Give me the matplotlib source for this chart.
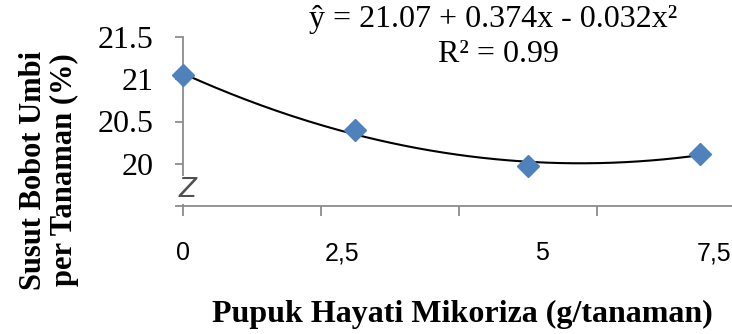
import numpy as np
import matplotlib.pyplot as plt

# data: pupuk hayati mikoriza (g/tanaman) vs susut bobot umbi (%)
dosis = [0, 2.5, 5, 7.5]
susut = [21.05, 20.40, 19.97, 20.12]
tick_labels = ['0', '2,5', '5', '7,5']
label_pos = [0, 2.3, 5.2, 7.7]
y_ticks = [20, 20.5, 21, 21.5]

fig = plt.figure(figsize=(7.32, 3.34), dpi=100)
ax = fig.add_axes([183 / 732, 128 / 334, 549 / 732, 169 / 334])

# trend line (quadratic)
coef = np.polyfit(dosis, susut, 2)
xs = np.linspace(0, 7.5, 200)
ax.plot(xs, np.polyval(coef, xs), color='black', lw=1.5, zorder=2)
ax.plot(dosis, susut, 'D', color='#4F81BD', ms=11, mec='#4F81BD', zorder=3,
        clip_on=False)

ax.set_xlim(0, 7.96)
ax.set_ylim(19.5, 21.5)
for s in ['top', 'right']:
    ax.spines[s].set_visible(False)
for s in ['left', 'bottom']:
    ax.spines[s].set_color('#8c8c8c')
    ax.spines[s].set_linewidth(1.3)

ax.set_yticks(y_ticks)
ax.set_yticks([19.5], minor=True)
ax.set_yticklabels(['20', '20.5', '21', '21.5'], family='Liberation Serif', fontsize=23)
ax.tick_params(axis='y', which='both', direction='out', length=6, width=1.3,
               color='#8c8c8c', pad=15)
ax.set_xticks([0, 2, 4, 6])
ax.set_xticklabels([])
ax.tick_params(axis='x', direction='out', length=7, width=1.3, color='#8c8c8c')

for p, t in zip(label_pos, tick_labels):
    ax.text(p, 18.94, t, ha='center', va='center', fontsize=18,
            family='Liberation Sans', color='black')

# axis break mark
ax.text(0.07, 19.69, 'Z', ha='center', va='center', fontsize=19, style='italic',
        family='DejaVu Sans', color='#505050', clip_on=False,
        bbox=dict(facecolor='white', edgecolor='none', pad=0.5))

fig.text(493 / 732, 1 - 19 / 334, 'ŷ = 21.07 + 0.374x - 0.032x²', ha='center',
         va='center', fontsize=23, family='Liberation Serif')
fig.text(498 / 732, 1 - 54 / 334, 'R² = 0.99', ha='center', va='center',
         fontsize=23, family='Liberation Serif')

fig.text(49 / 732, 1 - 170 / 334, 'Susut Bobot Umbi\nper Tanaman (%)', rotation=90,
         ha='center', va='center', fontsize=22, fontweight='bold',
         family='Liberation Serif', linespacing=1.05)
fig.text(462 / 732, 1 - 314 / 334, 'Pupuk Hayati Mikoriza (g/tanaman)',
         ha='center', va='center', fontsize=23, fontweight='bold',
         family='Liberation Serif')

fig.savefig('out.png', dpi=100)
